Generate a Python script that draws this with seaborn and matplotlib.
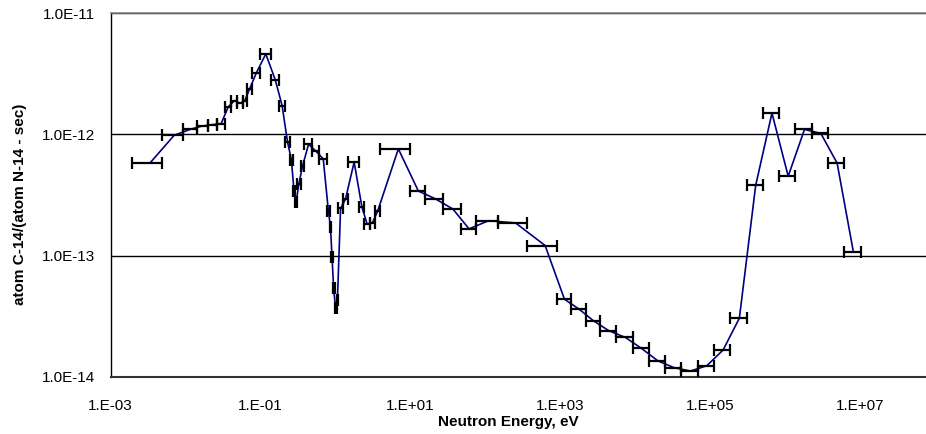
import numpy as np
import pandas as pd
import matplotlib
matplotlib.use("Agg")
import matplotlib.pyplot as plt
import seaborn as sns
from matplotlib.ticker import FixedLocator, LogLocator, NullFormatter

# Energy group boundaries (eV) and C-14 production rate per group
group_bounds_ev = [
    1.92e-3, 4.79e-3, 9.35e-3, 1.41e-2, 1.98e-2, 2.61e-2, 3.36e-2, 4.08e-2,
    4.91e-2, 5.79e-2, 6.55e-2, 7.82e-2, 9.85e-2, 0.1368, 0.178, 0.2102,
    0.2473, 0.2688, 0.2911, 0.3067, 0.3415, 0.3837, 0.4906, 0.6026,
    0.7702, 0.837, 0.879, 0.918, 0.970, 1.031, 1.090, 1.247,
    1.468, 2.076, 2.421, 2.858, 3.363, 3.921, 9.85, 15.6,
    26.9, 46.7, 74.0, 145.4, 357.5, 889.8, 1368.0, 2168.0,
    3355.0, 5530.0, 9120.0, 1.50e4, 2.48e4, 4.09e4, 6.74e4, 1.11e5,
    1.83e5, 3.02e5, 4.98e5, 8.21e5, 1.35e6, 2.23e6, 3.68e6, 6.07e6,
    1.0e7,
]

c14_rate = [
    5.80e-13, 9.85e-13, 1.105e-12, 1.176e-12, 1.205e-12, 1.229e-12, 1.69e-12, 1.90e-12,
    1.81e-12, 1.90e-12, 2.39e-12, 3.24e-12, 4.62e-12, 2.82e-12, 1.73e-12, 8.72e-13,
    6.18e-13, 3.41e-13, 2.77e-13, 3.89e-13, 5.45e-13, 8.29e-13, 7.29e-13, 6.28e-13,
    2.34e-13, 1.71e-13, 9.77e-14, 5.38e-14, 3.68e-14, 4.28e-14, 2.45e-13, 2.92e-13,
    5.91e-13, 2.52e-13, 1.82e-13, 1.87e-13, 2.32e-13, 7.60e-13, 3.41e-13, 2.95e-13,
    2.42e-13, 1.66e-13, 1.94e-13, 1.86e-13, 1.21e-13, 4.36e-14, 3.61e-14, 2.89e-14,
    2.39e-14, 2.11e-14, 1.71e-14, 1.35e-14, 1.186e-14, 1.114e-14, 1.232e-14, 1.66e-14,
    3.04e-14, 3.79e-13, 1.50e-12, 4.52e-13, 1.10e-12, 1.02e-12, 5.80e-13, 1.07e-13,
]

x_tick_values = [1e-3, 1e-1, 1e1, 1e3, 1e5, 1e7]
x_tick_labels = ["1.E-03", "1.E-01", "1.E+01", "1.E+03", "1.E+05", "1.E+07"]
y_tick_values = [1e-14, 1e-13, 1e-12, 1e-11]
y_tick_labels = ["1.0E-14", "1.0E-13", "1.0E-12", "1.0E-11"]

x_label = "Neutron Energy, eV"
y_label = "atom C-14/(atom N-14 - sec)"

sns.set_theme(style="white")
plt.rcParams['font.family'] = ['Liberation Sans', 'DejaVu Sans']

lo = np.array(group_bounds_ev[:-1])
hi = np.array(group_bounds_ev[1:])
mid = (lo + hi) / 2.0
half = (hi - lo) / 2.0
rate = np.array(c14_rate)
df = pd.DataFrame({"energy": mid, "rate": rate})

fig = plt.figure(figsize=(9.26, 4.34), dpi=100)
ax = fig.add_axes([110.5 / 926, 57.3 / 434, 815.5 / 926, 363.4 / 434])
ax.set_xscale("log")
ax.set_yscale("log")

sns.lineplot(data=df, x="energy", y="rate", sort=False, color="#000080",
             linewidth=1.2, ax=ax, zorder=3)
ax.errorbar(mid, rate, xerr=half, fmt="none", ecolor="black",
            elinewidth=1.6, capsize=4.2, capthick=1.6, zorder=4)

ax.set_xlim(1e-3, 10 ** 7.873)
ax.set_ylim(1e-14, 1e-11)

ax.xaxis.set_major_locator(FixedLocator(x_tick_values))
ax.set_xticklabels(x_tick_labels)
ax.xaxis.set_minor_locator(LogLocator(base=10, subs=np.arange(1, 10), numticks=200))
ax.xaxis.set_minor_formatter(NullFormatter())
ax.yaxis.set_major_locator(FixedLocator(y_tick_values))
ax.set_yticklabels(y_tick_labels)
ax.yaxis.set_minor_locator(LogLocator(base=10, subs=np.arange(2, 10), numticks=200))
ax.yaxis.set_minor_formatter(NullFormatter())

ax.tick_params(axis="y", which="major", direction="out", length=5, width=1,
               color="black", labelsize=11, labelcolor="black", pad=6)
ax.tick_params(axis="both", which="minor", direction="in", length=3, width=0.8,
               color="black")
ax.tick_params(axis="x", which="major", direction="inout", length=8, width=1,
               color="black", labelsize=11, labelcolor="black", pad=12)

ax.yaxis.grid(True, which="major", color="black", linewidth=1)
ax.xaxis.grid(False)
ax.set_axisbelow(True)

for side in ["left", "bottom"]:
    ax.spines[side].set_color("black")
    ax.spines[side].set_linewidth(1.0)
ax.spines["bottom"].set_color("#333333")
ax.spines["bottom"].set_linewidth(1.5)
ax.spines["top"].set_color("#808080")
ax.spines["top"].set_linewidth(1.2)
ax.spines["right"].set_visible(False)

ax.set_xlabel(x_label, fontsize=11, fontweight="bold", color="black")
ax.set_ylabel(y_label, fontsize=11, fontweight="bold", color="black")
ax.xaxis.set_label_coords((508 - 110.5) / 815.5, -0.105)
ax.yaxis.set_label_coords(-0.102, 0.475)

fig.savefig("out.png", dpi=100)
